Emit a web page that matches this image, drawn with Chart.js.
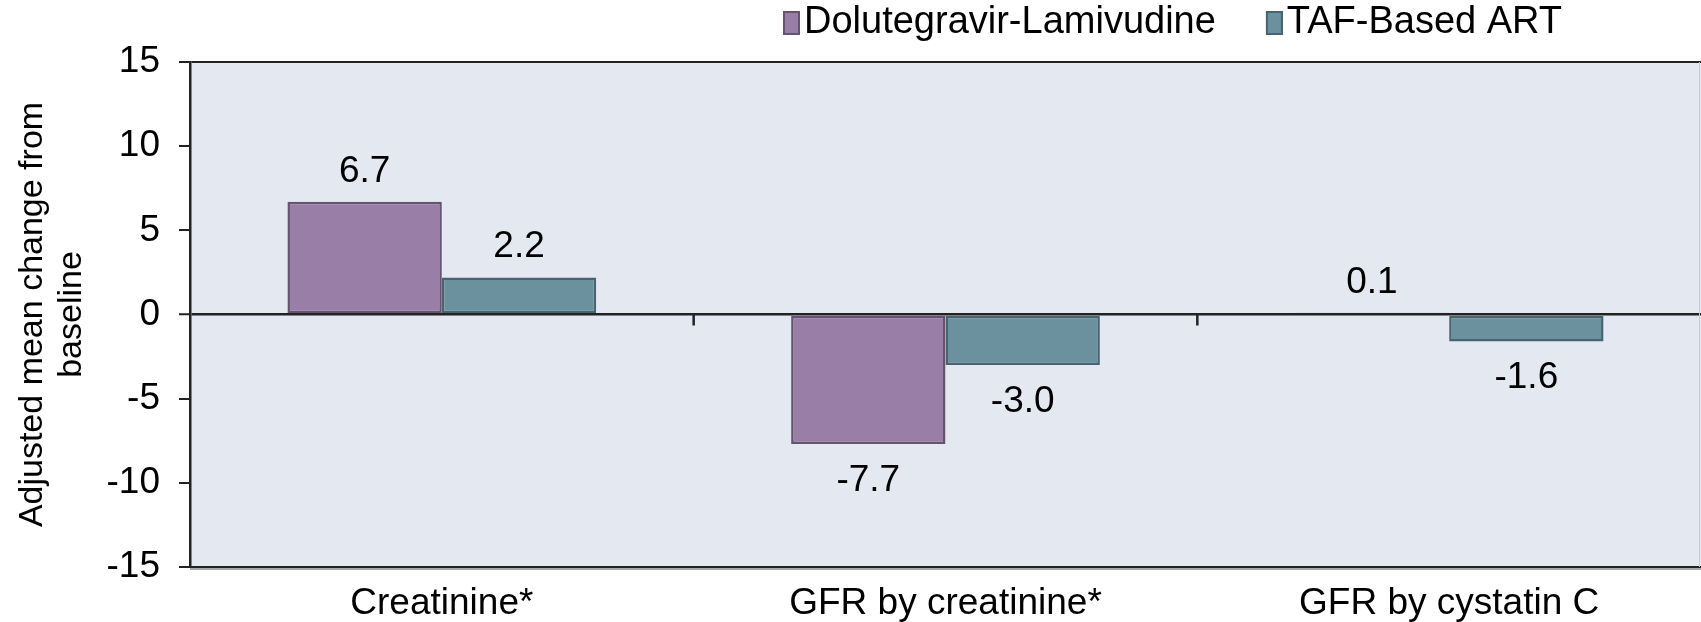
<!DOCTYPE html>
<html><head><meta charset="utf-8">
<script src="https://cdn.jsdelivr.net/npm/chart.js@4.4.1/dist/chart.umd.min.js"></script>
<style>html,body{margin:0;padding:0;background:#fff;overflow:hidden;}</style>
</head><body>
<canvas id="c" width="1701" height="622" style="display:block;width:1701px;height:622px"></canvas>
<script>
const categories = ['Creatinine*', 'GFR by creatinine*', 'GFR by cystatin C'];
const seriesNames = ['Dolutegravir-Lamivudine', 'TAF-Based ART'];
const dtgValues = [6.7, -7.7, 0.1];
const tafValues = [2.2, -3.0, -1.6];
const yTicks = [-15, -10, -5, 0, 5, 10, 15];
const yTitle = ['Adjusted mean change from', 'baseline'];

const FONT = "'Liberation Sans', Arial, sans-serif";
const fills = ['#997FA7', '#6B909E'];
const edges = ['#66536F', '#476470'];

function swatch(fill, edge) {
  const cv = document.createElement('canvas');
  cv.width = 31; cv.height = 24;
  const g = cv.getContext('2d');
  g.fillStyle = edge;
  g.fillRect(14, 0, 17, 24);
  g.fillStyle = fill;
  g.fillRect(16, 2, 13, 20);
  return cv;
}

const plotBg = {
  id: 'plotBg',
  beforeDraw(chart) {
    const {ctx, chartArea: a} = chart;
    ctx.save();
    ctx.fillStyle = '#E4E8F1';
    ctx.fillRect(a.left, a.top, a.right - a.left, a.bottom - a.top);
    ctx.restore();
  },
  afterDraw(chart) {
    const {ctx, chartArea: a} = chart;
    ctx.save();
    ctx.strokeStyle = '#C9CCD4';
    ctx.lineWidth = 1;
    ctx.beginPath();
    ctx.moveTo(a.right - 1.5, a.top);
    ctx.lineTo(a.right - 1.5, a.bottom);
    ctx.stroke();
    ctx.strokeStyle = '#8a8a8a';
    ctx.lineWidth = 1.5;
    ctx.beginPath();
    ctx.moveTo(a.left, a.bottom + 2);
    ctx.lineTo(a.right, a.bottom + 2);
    ctx.stroke();
    ctx.restore();
  }
};

const zeroTicks = {
  id: 'zeroTicks',
  afterDatasetsDraw(chart) {
    const {ctx} = chart;
    const xs = chart.scales.x, ys = chart.scales.y;
    const y0 = ys.getPixelForValue(0);
    ctx.save();
    ctx.strokeStyle = '#222';
    ctx.lineWidth = 2.5;
    for (let i = 0; i < categories.length - 1; i++) {
      const x = (xs.getPixelForValue(i) + xs.getPixelForValue(i + 1)) / 2;
      ctx.beginPath();
      ctx.moveTo(x, y0);
      ctx.lineTo(x, y0 + 11);
      ctx.stroke();
    }
    ctx.restore();
  }
};

const valueLabels = {
  id: 'valueLabels',
  afterDatasetsDraw(chart) {
    const {ctx} = chart;
    ctx.save();
    ctx.font = "37px " + FONT;
    ctx.fillStyle = '#000';
    ctx.textAlign = 'center';
    ctx.textBaseline = 'alphabetic';
    chart.data.datasets.forEach((ds, i) => {
      chart.getDatasetMeta(i).data.forEach((el, j) => {
        const v = ds.data[j];
        const y = v >= 0 ? el.y - 20 : el.y + 47;
        ctx.fillText(v.toFixed(1), el.x, y);
      });
    });
    ctx.restore();
  }
};

const legendPlacer = {
  id: 'legendPlacer',
  afterLayout(chart) {
    const lg = chart.legend;
    if (!lg) return;
    lg.left = 733;
    lg.top = -47;
  }
};

new Chart(document.getElementById('c'), {
  type: 'bar',
  data: {
    labels: categories,
    datasets: [
      {
        label: seriesNames[0], data: dtgValues,
        backgroundColor: fills[0], borderColor: edges[0], borderWidth: 2.5, borderSkipped: false,
        categoryPercentage: 0.613, barPercentage: 1.0
      },
      {
        label: seriesNames[1], data: tafValues,
        backgroundColor: fills[1], borderColor: edges[1], borderWidth: 2.5, borderSkipped: false,
        categoryPercentage: 0.613, barPercentage: 1.0
      }
    ]
  },
  options: {
    responsive: false,
    animation: false,
    devicePixelRatio: 1,
    layout: {padding: 0},
    plugins: {
      tooltip: {enabled: false},
      legend: {
        display: true,
        position: 'top',
        align: 'start',
        maxHeight: 62,
        labels: {
          font: {family: FONT, size: 38},
          color: '#000',
          usePointStyle: true,
          pointStyleWidth: 1,
          boxHeight: 24,
          padding: 51,
          generateLabels(chart) {
            return chart.data.datasets.map((ds, i) => ({
              text: ds.label,
              fillStyle: fills[i],
              strokeStyle: edges[i],
              lineWidth: 0,
              pointStyle: swatch(fills[i], edges[i]),
              hidden: false,
              datasetIndex: i,
              fontColor: '#000'
            }));
          }
        }
      }
    },
    scales: {
      x: {
        grid: {display: false},
        border: {display: true, color: '#222', width: 2},
        ticks: {font: {family: FONT, size: 37}, color: '#000', padding: 7, maxRotation: 0, autoSkip: false},
        afterFit(s) { s.height = 55; }
      },
      y: {
        min: -15, max: 15,
        afterBuildTicks(s) { s.ticks = yTicks.map(v => ({value: v})); },
        grid: {
          drawOnChartArea: true,
          color: c => (c.tick && (c.tick.value === 0 || c.tick.value === 15)) ? '#222' : 'rgba(0,0,0,0)',
          lineWidth: c => (c.tick && c.tick.value === 0) ? 2.5 : 2,
          drawTicks: true,
          tickLength: 11,
          tickColor: '#222',
          tickWidth: 2
        },
        border: {display: true, color: '#222', width: 2.5},
        ticks: {font: {family: FONT, size: 37}, color: '#000', padding: 19, callback: v => String(v)},
        title: {
          display: true, text: yTitle, color: '#000',
          font: {family: FONT, size: 34, lineHeight: 1.147},
          padding: {top: 13.5, bottom: 0}
        },
        afterFit(s) { s.width = 190; }
      }
    }
  },
  plugins: [plotBg, zeroTicks, valueLabels, legendPlacer]
});
</script>
</body></html>
